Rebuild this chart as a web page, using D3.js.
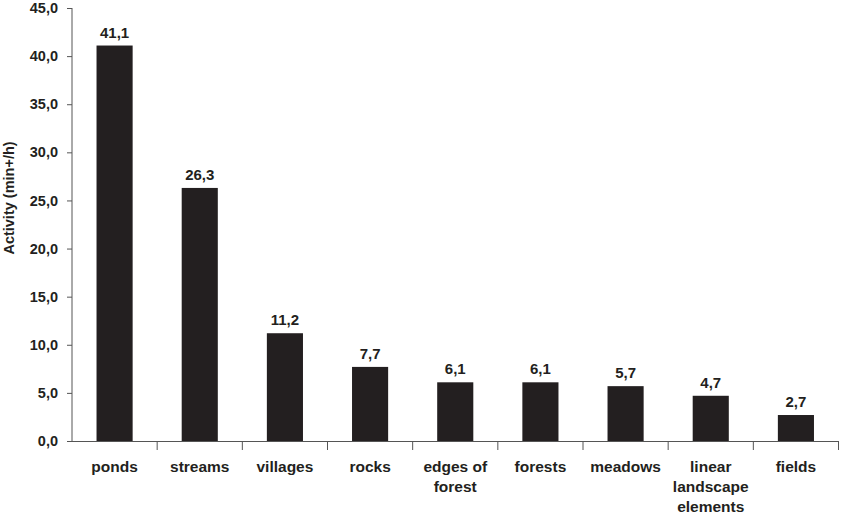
<!DOCTYPE html>
<html><head><meta charset="utf-8">
<script src="https://cdn.jsdelivr.net/npm/d3@7"></script>
<style>body{margin:0;background:#fff}svg{display:block}text{font-family:"Liberation Sans",Arial,sans-serif;fill:#231f20}</style>
</head><body>
<svg id="c" width="841" height="519"></svg>
<script>
const categories = [["ponds"],["streams"],["villages"],["rocks"],["edges of","forest"],["forests"],["meadows"],["linear","landscape","elements"],["fields"]];
const values = [41.1, 26.3, 11.2, 7.7, 6.1, 6.1, 5.7, 4.7, 2.7];
const yTicks = [0,5,10,15,20,25,30,35,40,45];
const yTitle = "Activity (min+/h)";

const svg = d3.select("#c");
const fmt = v => v.toFixed(1).replace(".", ",");
const keys = categories.map((c,i)=>String(i));
const x = d3.scaleBand().domain(keys).range([72, 838.5]).paddingInner(0.576).paddingOuter(0.288);
const y = d3.scaleLinear().domain([0,45]).range([441, 8]);

// y axis
const ya = svg.append("g").attr("transform","translate(72,0)")
  .call(d3.axisLeft(y).tickValues(yTicks).tickFormat(fmt).tickSize(5).tickPadding(9));
ya.select(".domain").attr("stroke","#555").attr("d","M0,8V441");
ya.selectAll(".tick line").attr("stroke","#555");
ya.selectAll(".tick text").attr("font-size",14.5).attr("font-weight","bold").attr("fill","#231f20").attr("font-family",'"Liberation Sans",Arial,sans-serif');

// x axis baseline & boundary ticks
svg.append("line").attr("x1",67).attr("x2",838).attr("y1",441.5).attr("y2",441.5).attr("stroke","#555");
keys.forEach((k,i)=>{
  if(i===0) return;
  const bx = x(k) - x.step()*x.paddingInner()/2;
  svg.append("line").attr("x1",bx).attr("x2",bx).attr("y1",441).attr("y2",450).attr("stroke","#555");
});
const lastX = x(keys[keys.length-1]) + x.bandwidth() + x.step()*x.paddingInner()/2;
svg.append("line").attr("x1",lastX).attr("x2",lastX).attr("y1",441).attr("y2",450).attr("stroke","#555");

// bars
svg.selectAll("rect.bar").data(values).join("rect").attr("class","bar")
  .attr("x",(d,i)=>x(keys[i])).attr("width",x.bandwidth())
  .attr("y",d=>y(d)).attr("height",d=>y(0)-y(d)).attr("fill","#231f20");

// value labels
svg.selectAll("text.val").data(values).join("text").attr("class","val")
  .attr("x",(d,i)=>x(keys[i])+x.bandwidth()/2).attr("y",d=>y(d)-8)
  .attr("text-anchor","middle").attr("font-size",15).attr("font-weight","bold").text(fmt);

// category labels
categories.forEach((lines,i)=>{
  const t = svg.append("text").attr("text-anchor","middle").attr("font-size",15.5).attr("font-weight","bold")
    .attr("x", x(keys[i])+x.bandwidth()/2).attr("y",472);
  lines.forEach((l,j)=>t.append("tspan").attr("x",x(keys[i])+x.bandwidth()/2).attr("dy", j===0?0:20).text(l));
});

// y title
svg.append("text").attr("transform","translate(14,198) rotate(-90)").attr("text-anchor","middle")
  .attr("font-size",14.5).attr("font-weight","bold").text(yTitle);
</script>
</body></html>
